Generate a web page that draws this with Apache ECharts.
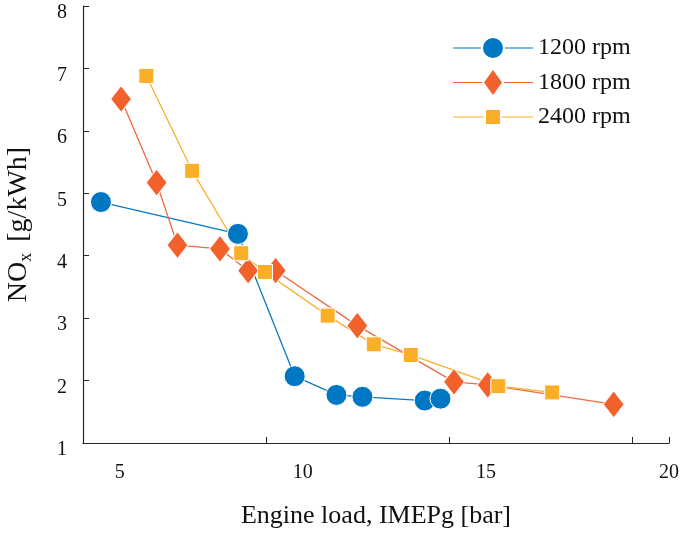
<!DOCTYPE html>
<html><head><meta charset="utf-8">
<script src="https://cdn.jsdelivr.net/npm/echarts@6/dist/echarts.min.js"></script>
<style>html,body{margin:0;padding:0;background:#fff}#c{width:682px;height:535px}</style>
</head><body><div id="c"></div>
<script>
const seriesNames = ['1200 rpm', '1800 rpm', '2400 rpm'];
const x1200 = [4.49, 8.23, 9.78, 10.92, 11.63, 13.33, 13.76];
const y1200 = [4.86, 4.35, 2.07, 1.77, 1.74, 1.68, 1.71];
const x1800 = [5.04, 6.01, 6.58, 7.74, 8.51, 9.26, 11.49, 14.13, 15.05, 18.49];
const y1800 = [6.51, 5.17, 4.17, 4.11, 3.76, 3.76, 2.88, 1.98, 1.93, 1.62];
const x2400 = [5.73, 6.98, 8.32, 8.97, 10.68, 11.94, 12.95, 15.34, 16.81];
const y2400 = [6.88, 5.36, 4.04, 3.74, 3.04, 2.58, 2.41, 1.91, 1.81];
const xTicks = [5, 10, 15, 20];
const yTicks = [1, 2, 3, 4, 5, 6, 7, 8];

const zip = (a, b) => a.map((v, i) => [v, b[i]]);
const font = 'Liberation Serif, DejaVu Serif, serif';
const axisCol = '#262626';

const legendIcons = [
  'path://M0,9.4H28V10.6H0Z M52,9.4H80V10.6H52Z M50,10A10,10 0 1 1 30,10A10,10 0 1 1 50,10Z',
  'path://M0,11.9H29V13.1H0Z M51,11.9H80V13.1H51Z M40,0L49,12.5L40,25L31,12.5Z',
  'path://M0,6.4H31V7.6H0Z M49,6.4H80V7.6H49Z M33,0H47V14H33Z'
];

const chart = echarts.init(document.getElementById('c'), null, {renderer: 'canvas'});
chart.setOption({
  animation: false,
  backgroundColor: '#fff',
  grid: {left: 83, right: 13, top: 6, bottom: 92, outerBoundsMode: 'none', containLabel: false},
  legend: {
    left: 448, top: 31, orient: 'vertical',
    itemWidth: 80, itemHeight: 26, itemGap: 10,
    itemStyle: {borderWidth: 0},
    textStyle: {fontFamily: font, fontSize: 24, color: '#111'},
    data: seriesNames.map((n, i) => ({name: n, icon: legendIcons[i]}))
  },
  xAxis: {
    type: 'value', min: 4, max: 20, interval: 5,
    axisLine: {show: true, lineStyle: {color: axisCol, width: 1.2}},
    axisTick: {show: true, inside: true, length: 6, lineStyle: {color: axisCol}},
    axisLabel: {fontFamily: font, fontSize: 20, color: '#111', margin: 20,
      customValues: xTicks},
    splitLine: {show: false},
    name: 'Engine load, IMEPg [bar]', nameLocation: 'middle', nameGap: 60,
    nameTextStyle: {fontFamily: font, fontSize: 26, color: '#111'}
  },
  yAxis: {
    type: 'value', min: 1, max: 8, interval: 1,
    axisLine: {show: true, lineStyle: {color: axisCol, width: 1.2}},
    axisTick: {show: true, inside: true, length: 6, lineStyle: {color: axisCol}},
    axisLabel: {fontFamily: font, fontSize: 20, color: '#111', margin: 16,
      verticalAlign: 'top', lineHeight: 14, customValues: yTicks},
    splitLine: {show: false},
    name: '{n|NO}{s|x}{n| [g/kWh]}', nameLocation: 'middle', nameGap: 48, nameRotate: 90,
    nameTextStyle: {fontFamily: font, fontSize: 28, color: '#111',
      rich: {n: {fontFamily: font, fontSize: 28, color: '#111'},
             s: {fontFamily: font, fontSize: 18, color: '#111', verticalAlign: 'bottom', padding: [14, 4, 0, 0]}}}
  },
  series: [
    {name: seriesNames[0], type: 'line', data: zip(x1200, y1200),
     symbol: 'circle', symbolSize: 21,
     lineStyle: {color: '#0a78c4', width: 1.3},
     itemStyle: {color: '#0077C2', borderColor: '#fff', borderWidth: 1}},
    {name: seriesNames[1], type: 'line', data: zip(x1800, y1800),
     symbol: 'diamond', symbolSize: [21, 27],
     lineStyle: {color: '#ef6a3e', width: 1.3},
     itemStyle: {color: '#F2612B', borderColor: '#fff', borderWidth: 1}},
    {name: seriesNames[2], type: 'line', data: zip(x2400, y2400),
     symbol: 'rect', symbolSize: 15,
     lineStyle: {color: '#f9b02c', width: 1.3},
     itemStyle: {color: '#FBAE27', borderColor: '#fff', borderWidth: 1}}
  ]
});
</script></body></html>
